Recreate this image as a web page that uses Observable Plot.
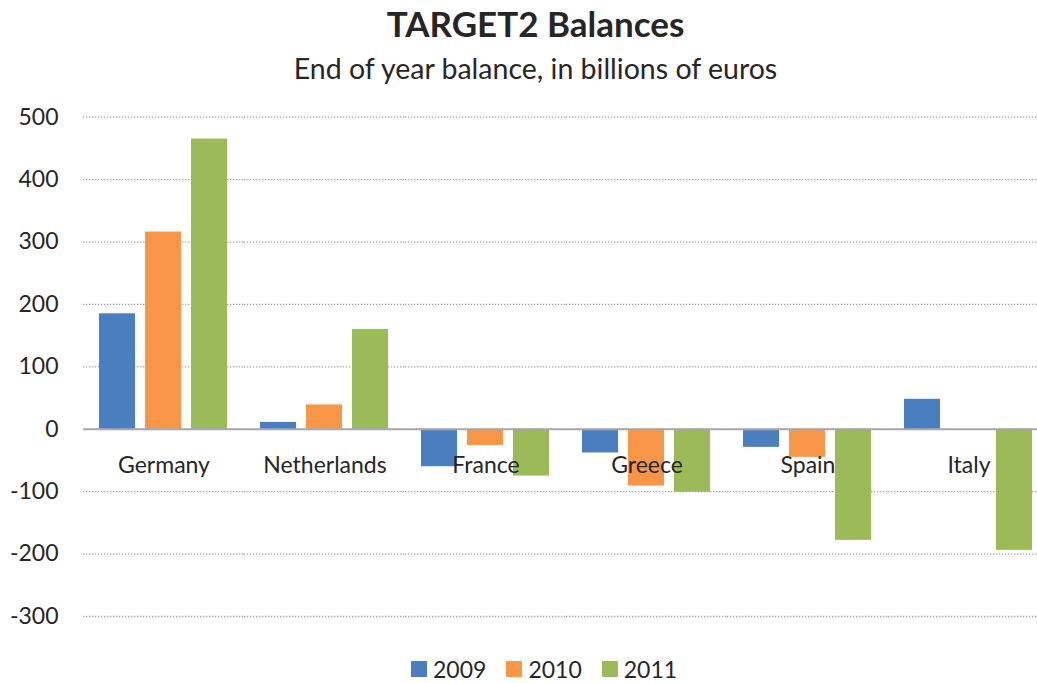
<!DOCTYPE html>
<html>
<head>
<meta charset="utf-8">
<script src="https://cdn.jsdelivr.net/npm/d3@7"></script>
<script src="https://cdn.jsdelivr.net/npm/@observablehq/plot@0.6"></script>
<style>
  html, body { margin: 0; padding: 0; background: #fff; overflow: hidden; }
  #wrap { position: relative; width: 1037px; height: 683px; font-family: Lato, "Open Sans", sans-serif; color: #262626; }
  #title { position: absolute; top: 1px; left: 17px; width: 1037px; text-align: center; font-size: 35px; font-weight: bold; line-height: 44px; white-space: nowrap; }
  #subtitle { position: absolute; top: 49px; left: 17px; width: 1037px; text-align: center; font-size: 28.5px; line-height: 38px; white-space: nowrap; }
  #chart { position: absolute; top: 90px; left: 0; }
  #chart svg { max-width: none; }
  #legend { position: absolute; top: 652px; left: 411px; font-size: 23px; line-height: 32px; white-space: nowrap; }
  .item { display: inline-flex; align-items: center; margin-right: 20px; }
  .sw { display: inline-block; width: 16px; height: 16px; margin-right: 6px; }
</style>
</head>
<body>
<div id="wrap">
  <div id="title">TARGET2 Balances</div>
  <div id="subtitle">End of year balance, in billions of euros</div>
  <div id="chart"></div>
  <div id="legend"></div>
</div>
<script>
const countries = ["Germany", "Netherlands", "France", "Greece", "Spain", "Italy"];
const years = ["2009", "2010", "2011"];
const values2009 = [185, 11, -60, -38, -29, 48];
const values2010 = [316, 39, -26, -91, -45, 0];
const values2011 = [465, 160, -75, -101, -178, -194];
const yTicks = [-300, -200, -100, 0, 100, 200, 300, 400, 500];
const colors = ["#4a7fbf", "#f79646", "#9bbb59"];

const series = [values2009, values2010, values2011];
const rows = [];
countries.forEach((c, i) => {
  years.forEach((y, j) => rows.push({country: c, year: y, value: series[j][i]}));
});

const chart = Plot.plot({
  width: 1037,
  height: 560,
  marginLeft: 82,
  marginRight: 0,
  marginTop: 27,
  marginBottom: 34,
  style: {fontFamily: "Lato, 'Open Sans', sans-serif", fontSize: "23px", color: "#262626", background: "white", overflow: "visible"},
  facet: {data: rows, x: "country"},
  fx: {domain: countries, range: [82.5, 1049], paddingInner: 0, paddingOuter: 0, axis: null, label: null},
  x: {domain: years, paddingInner: 0.21, paddingOuter: 0.32, axis: null},
  y: {domain: [-300, 500], range: [526, 26.7], ticks: yTicks, tickSize: 0, tickPadding: 25, tickFormat: d => String(d), label: null, axis: "left"},
  color: {domain: years, range: colors},
  marks: [
    Plot.ruleY(yTicks.filter(d => d !== 0), {stroke: "#a0a0a0", strokeWidth: 1.3, strokeDasharray: "1.3,1.7"}),
    Plot.barY(rows, {x: "year", y: "value", fill: "year"}),
    Plot.ruleY([0], {stroke: "#a6a6a6", strokeWidth: 2}),
    Plot.text(rows, Plot.selectFirst({text: "country", y: d => 0, dy: 36, frameAnchor: "middle", fill: "#262626", fontSize: 23}))
  ]
});

document.getElementById("chart").appendChild(chart);

const legend = document.getElementById("legend");
years.forEach((y, i) => {
  const item = document.createElement("span");
  item.className = "item";
  const sw = document.createElement("span");
  sw.className = "sw";
  sw.style.background = colors[i];
  item.appendChild(sw);
  item.appendChild(document.createTextNode(y));
  legend.appendChild(item);
});
</script>
</body>
</html>
